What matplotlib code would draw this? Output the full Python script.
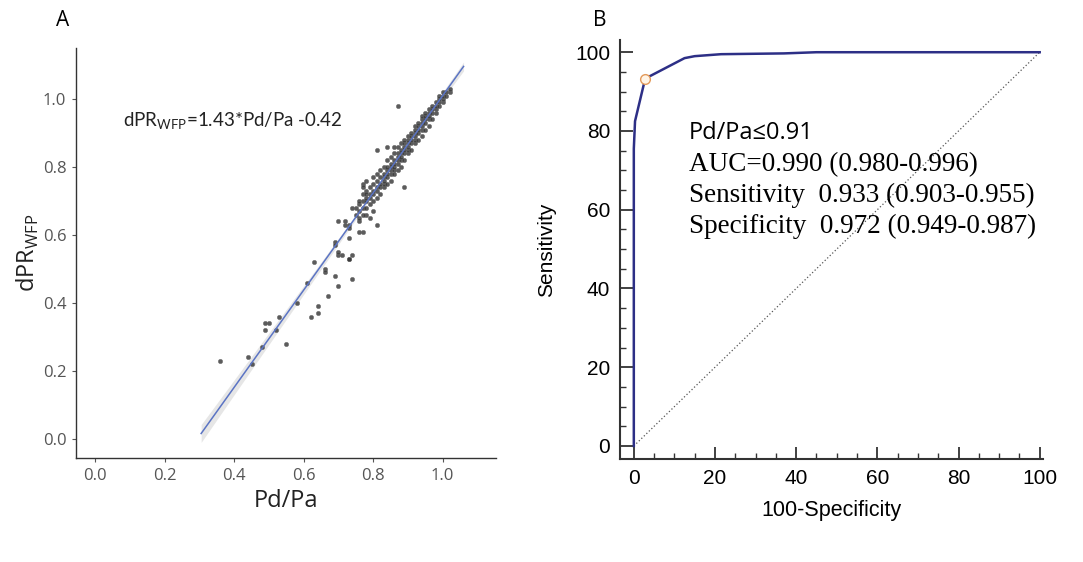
import matplotlib
matplotlib.use("Agg")
import matplotlib.pyplot as plt
import numpy as np
from matplotlib.ticker import MultipleLocator

# ---------------- Panel A data ----------------
outlier_pd = [0.36, 0.44, 0.45, 0.48, 0.49, 0.49, 0.50, 0.52, 0.53, 0.55, 0.58, 0.61, 0.63,
              0.62, 0.64, 0.64, 0.67, 0.66, 0.66, 0.69, 0.70, 0.69, 0.69, 0.70, 0.71, 0.70,
              0.73, 0.74, 0.73, 0.74, 0.73, 0.70, 0.72, 0.72, 0.73, 0.73, 0.74, 0.75, 0.76,
              0.77, 0.81, 0.81, 0.77, 0.78, 0.87, 0.84, 0.89, 0.75, 0.76, 0.78, 0.79, 0.80]
outlier_dpr = [0.23, 0.24, 0.22, 0.27, 0.32, 0.34, 0.34, 0.32, 0.36, 0.28, 0.40, 0.46, 0.52,
               0.36, 0.39, 0.37, 0.42, 0.50, 0.49, 0.48, 0.45, 0.58, 0.57, 0.54, 0.54, 0.55,
               0.53, 0.54, 0.59, 0.47, 0.53, 0.64, 0.64, 0.63, 0.63, 0.62, 0.68, 0.68, 0.61,
               0.61, 0.63, 0.85, 0.75, 0.76, 0.98, 0.86, 0.74, 0.66, 0.64, 0.66, 0.65, 0.67]

cluster_pd = ([0.76] * 4 + [0.77] * 5 + [0.78] * 5 + [0.79] * 4 + [0.80] * 5 + [0.81] * 5 +
              [0.82] * 5 + [0.83] * 6 + [0.84] * 6 + [0.85] * 6 + [0.86] * 7 + [0.87] * 6 +
              [0.88] * 6 + [0.89] * 6 + [0.90] * 6 + [0.91] * 5 + [0.92] * 6 + [0.93] * 5 +
              [0.94] * 6 + [0.95] * 5 + [0.96] * 5 + [0.97] * 4 + [0.98] * 4 + [0.99] * 4 +
              [1.00] * 4 + [1.01] * 2 + [1.02] * 2)
cluster_dpr = [0.65, 0.67, 0.69, 0.70,
               0.66, 0.68, 0.70, 0.72, 0.74,
               0.68, 0.70, 0.71, 0.73, 0.72,
               0.69, 0.71, 0.72, 0.74,
               0.70, 0.72, 0.73, 0.75, 0.77,
               0.71, 0.73, 0.74, 0.76, 0.78,
               0.72, 0.74, 0.75, 0.77, 0.79,
               0.74, 0.75, 0.76, 0.77, 0.78, 0.80,
               0.75, 0.77, 0.78, 0.79, 0.80, 0.82,
               0.76, 0.78, 0.79, 0.80, 0.81, 0.83,
               0.78, 0.79, 0.80, 0.81, 0.82, 0.84, 0.86,
               0.79, 0.81, 0.82, 0.83, 0.84, 0.86,
               0.80, 0.82, 0.83, 0.84, 0.85, 0.87,
               0.82, 0.84, 0.85, 0.86, 0.87, 0.88,
               0.84, 0.85, 0.86, 0.87, 0.88, 0.89,
               0.85, 0.87, 0.88, 0.89, 0.90,
               0.87, 0.88, 0.89, 0.90, 0.91, 0.92,
               0.88, 0.90, 0.91, 0.92, 0.93,
               0.89, 0.91, 0.92, 0.93, 0.94, 0.95,
               0.91, 0.93, 0.94, 0.95, 0.96,
               0.92, 0.94, 0.95, 0.96, 0.97,
               0.94, 0.96, 0.97, 0.98,
               0.96, 0.97, 0.98, 0.99,
               0.98, 0.99, 1.00, 1.01,
               0.99, 1.00, 1.01, 1.02,
               1.01, 1.02,
               1.02, 1.03]

slope = 1.43
intercept = -0.42
line_x_range = [0.305, 1.06]

a_ticks = [0.0, 0.2, 0.4, 0.6, 0.8, 1.0]
a_ticklabels = ["0.0", "0.2", "0.4", "0.6", "0.8", "1.0"]

# ---------------- Panel B data ----------------
roc_fpr = [0.0, 0.0, 0.0, 0.3, 2.8, 12.5, 15.0, 21.5, 37.0, 45.0, 100.0]
roc_tpr = [0.0, 60.0, 75.5, 82.5, 93.3, 98.5, 99.0, 99.5, 99.7, 100.0, 100.0]
cutoff_fpr = 2.8
cutoff_tpr = 93.3
b_ticks = [0, 20, 40, 60, 80, 100]
b_text = ["AUC=0.990 (0.980-0.996)",
          "Sensitivity  0.933 (0.903-0.955)",
          "Specificity  0.972 (0.949-0.987)"]

fig = plt.figure(figsize=(10.83, 5.62), dpi=100)

# ================= Panel A =================
axA = fig.add_axes([0.0702, 0.185, 0.388, 0.7296])
gx = np.array(outlier_pd + cluster_pd)
gy = np.array(outlier_dpr + cluster_dpr)
axA.scatter(gx, gy, s=10, c="#333333", alpha=0.8, edgecolors="#6e6e6e",
            linewidths=0.4, zorder=3)

lx = np.linspace(line_x_range[0], line_x_range[1], 100)
ly = slope * lx + intercept
resid = gy - (slope * gx + intercept)
n = len(gx)
s_err = np.sqrt(np.sum(resid ** 2) / (n - 2))
se = s_err * np.sqrt(1.0 / n + (lx - gx.mean()) ** 2 / np.sum((gx - gx.mean()) ** 2))
axA.fill_between(lx, ly - 1.96 * se, ly + 1.96 * se, color="#c8c8c8", alpha=0.45,
                 linewidth=0, zorder=2)
axA.plot(lx, ly, color="#5b74c4", lw=1.1, zorder=4)

axA.set_xlim(-0.055, 1.154)
axA.set_ylim(-0.056, 1.15)
for sp in ["top", "right"]:
    axA.spines[sp].set_visible(False)
for sp in ["left", "bottom"]:
    axA.spines[sp].set_color("#333333")
    axA.spines[sp].set_linewidth(1.0)
axA.set_xticks(a_ticks)
axA.set_xticklabels(a_ticklabels)
axA.set_yticks(a_ticks)
axA.set_yticklabels(a_ticklabels)
axA.tick_params(axis="both", direction="out", length=3, width=0.8, color="#555555",
                labelcolor="#555555", labelsize=12, pad=4)
for lab in axA.get_xticklabels() + axA.get_yticklabels():
    lab.set_family(["Open Sans", "DejaVu Sans"])
axA.set_xlabel("Pd/Pa", fontsize=17, family=["Open Sans", "DejaVu Sans"],
               color="#222222", labelpad=4)
axA.set_ylabel(r"dPR$_{\mathregular{WFP}}$", fontsize=17,
               family=["Open Sans", "DejaVu Sans"], color="#222222", labelpad=1)
axA.text(0.08, 0.935, r"dPR$_{\mathregular{WFP}}$=1.43*Pd/Pa -0.42", fontsize=13.5,
         family=["Lato", "DejaVu Sans"], color="#222222", va="center", ha="left")
fig.text(63 / 1083, 1 - 21 / 562, "A", fontsize=15, family=["Open Sans", "DejaVu Sans"],
         ha="center", va="center")

# ================= Panel B =================
axB = fig.add_axes([0.5725, 0.1833, 0.3905, 0.7455])
axB.plot([0, 100], [0, 100], color="#555555", lw=0.9, ls=(0, (1, 1.8)), zorder=2)
axB.plot(roc_fpr, roc_tpr, color="#2d2f86", lw=1.8, zorder=3, solid_joinstyle="round")
axB.plot([cutoff_fpr], [cutoff_tpr], marker="o", ms=7, mfc="#fff4e6", mec="#e39a5a",
         mew=1.0, zorder=4)
axB.set_xlim(-3.4, 100.8)
axB.set_ylim(-3.3, 103.1)
for sp in ["top", "right"]:
    axB.spines[sp].set_visible(False)
for sp in ["left", "bottom"]:
    axB.spines[sp].set_color("#333333")
    axB.spines[sp].set_linewidth(1.5)
axB.set_xticks(b_ticks)
axB.set_yticks(b_ticks)
axB.xaxis.set_minor_locator(MultipleLocator(5))
axB.yaxis.set_minor_locator(MultipleLocator(5))
axB.tick_params(axis="both", which="major", direction="in", length=9, width=1.3,
                color="#333333", labelsize=15, pad=7)
axB.tick_params(axis="both", which="minor", direction="in", length=4.5, width=1.0,
                color="#333333")
for lab in axB.get_xticklabels() + axB.get_yticklabels():
    lab.set_family(["Liberation Sans", "DejaVu Sans"])
axB.set_xlabel("100-Specificity", fontsize=15.5, family=["Liberation Sans", "DejaVu Sans"],
               labelpad=9)
axB.set_ylabel("Sensitivity", fontsize=15, family=["Liberation Sans", "DejaVu Sans"],
               labelpad=14)
axB.text(13.5, 79.5, "Pd/Pa≤0.91", fontsize=17, family=["Open Sans", "DejaVu Sans"],
         va="center", ha="left")
for i, t in enumerate(b_text):
    axB.text(13.5, 71.5 - i * 7.9, t, fontsize=19.5, family=["Liberation Serif", "DejaVu Serif"],
             va="center", ha="left")
fig.text(600 / 1083, 1 - 21 / 562, "B", fontsize=15, family=["Open Sans", "DejaVu Sans"],
         ha="center", va="center")

fig.savefig("out.png", dpi=100)
